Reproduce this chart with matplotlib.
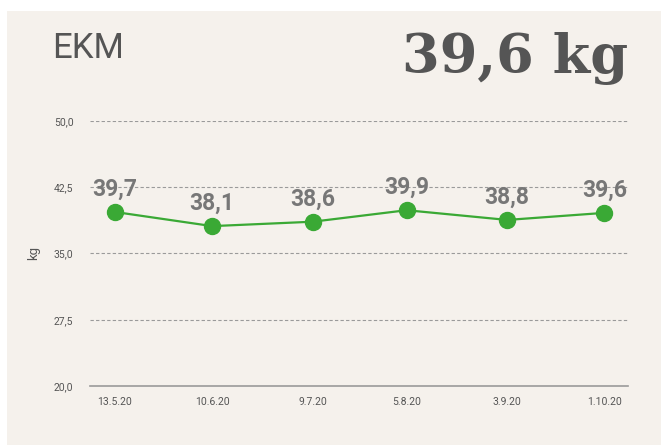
import numpy as np
import matplotlib.pyplot as plt
import matplotlib.dates as mdates
from matplotlib.patches import Rectangle
from datetime import date

dates = [date(2020, 5, 13), date(2020, 6, 10), date(2020, 7, 9),
         date(2020, 8, 5), date(2020, 9, 3), date(2020, 10, 1)]
labels = ['13.5.20', '10.6.20', '9.7.20', '5.8.20', '3.9.20', '1.10.20']
values = [39.7, 38.1, 38.6, 39.9, 38.8, 39.6]
yticks = [20.0, 27.5, 35.0, 42.5, 50.0]

bg = '#f5f1ec'
grey = '#555555'
green = '#3aa935'

fig = plt.figure(figsize=(6.61, 4.45), dpi=100)
fig.patch.set_facecolor('white')
fig.patches.append(Rectangle((7 / 661, 0), 1, 1 - 11 / 445, transform=fig.transFigure,
                             facecolor=bg, edgecolor='none', zorder=-10))

ax = fig.add_axes([90 / 661, 1 - 386 / 445, 538 / 661, 265 / 445])
ax.set_facecolor(bg)
ax.patch.set_alpha(0)

x = mdates.date2num(dates)
ax.plot(x, values, color=green, lw=1.6, marker='o', ms=11.5, zorder=3)
for xi, v in zip(x, values):
    ax.annotate(f'{v:.1f}'.replace('.', ','), (xi, v), xytext=(0, 8),
                textcoords='offset points', ha='center', va='bottom',
                fontsize=16.5, fontweight='bold', color='#777777',
                family='Roboto', zorder=4)

ax.set_ylim(20, 50)
ax.set_xlim(x[0] - 7.2, x[-1] + 6.8)
ax.set_yticks(yticks)
ax.set_yticklabels([f'{t:.1f}'.replace('.', ',') for t in yticks])
ax.set_xticks(x)
ax.set_xticklabels(labels)
ax.tick_params(length=0, labelsize=7.5, colors=grey, pad=8)
ax.tick_params(axis='y', pad=12)
for lab in ax.get_xticklabels() + ax.get_yticklabels():
    lab.set_family('Roboto')

for t in yticks[1:]:
    ax.axhline(t, color='#9a9a9a', lw=0.8, ls=(0, (3, 2)), zorder=1)
for s in ['top', 'right', 'left']:
    ax.spines[s].set_visible(False)
ax.spines['bottom'].set_color('#9a9a9a')
ax.spines['bottom'].set_linewidth(1.2)

ax.set_ylabel('kg', fontsize=9.5, color=grey, family='Roboto', labelpad=10)

fig.text(52 / 661, 1 - 58 / 445, 'EKM', fontsize=25, color=grey,
         family='Roboto', ha='left', va='baseline')
fig.text(628 / 661, 1 - 73 / 445, '39,6 kg', fontsize=39, color=grey,
         family='DejaVu Serif', fontweight='bold', ha='right', va='baseline')

fig.savefig('out.png', dpi=100, facecolor=fig.get_facecolor())
